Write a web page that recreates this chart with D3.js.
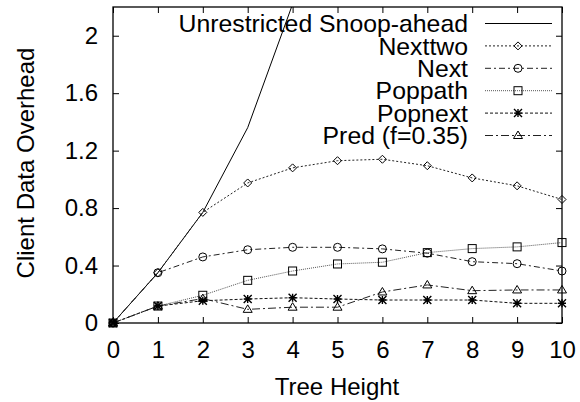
<!DOCTYPE html>
<html><head><meta charset="utf-8">
<script src="https://cdn.jsdelivr.net/npm/d3@7"></script>
<style>body{margin:0;background:#fff}text{font-family:"Liberation Sans",Arial,Helvetica,sans-serif;fill:#000}</style>
</head><body>
<svg id="c" width="580" height="402"></svg>
<script>
const heights = [0,1,2,3,4,5,6,7,8,9,10];
const xTicks = [0,1,2,3,4,5,6,7,8,9,10];
const yTicks = [0,0.4,0.8,1.2,1.6,2];
const yTickLabels = ["0","0.4","0.8","1.2","1.6","2"];
const unrestricted = [0,0.35,0.77,1.36,2.22];
const nexttwo = [0,0.35,0.77,0.975,1.08,1.13,1.14,1.095,1.01,0.955,0.86];
const next = [0,0.35,0.46,0.51,0.527,0.527,0.516,0.486,0.427,0.413,0.362];
const poppath = [0,0.118,0.193,0.297,0.362,0.411,0.423,0.49,0.518,0.53,0.56];
const popnext = [0,0.118,0.155,0.167,0.176,0.167,0.16,0.16,0.16,0.137,0.137];
const pred = [0,0.118,0.17,0.095,0.11,0.11,0.216,0.265,0.225,0.23,0.23];
const seriesNames = ["Unrestricted Snoop-ahead","Nexttwo","Next","Poppath","Popnext","Pred (f=0.35)"];

const series = [
  {name:seriesNames[0], values:unrestricted, dash:null, marker:null, stroke:"#000"},
  {name:seriesNames[1], values:nexttwo, dash:"2,2", marker:"diamond", stroke:"#222"},
  {name:seriesNames[2], values:next, dash:"6,3,2,3", marker:"circle", stroke:"#222"},
  {name:seriesNames[3], values:poppath, dash:"1,1", marker:"square", stroke:"#555"},
  {name:seriesNames[4], values:popnext, dash:"3,2", marker:"star", stroke:"#111"},
  {name:seriesNames[5], values:pred, dash:"8,3,2,3", marker:"triangle", stroke:"#222"}
];

const L=113,R=562,T=7,B=323;
const FS=24, LFS=24.8;
const svg=d3.select("#c");
const x=d3.scaleLinear().domain([0,10]).range([L,R]);
const y=d3.scaleLinear().domain([0,2.2]).range([B,T]);

svg.append("defs").append("clipPath").attr("id","clip").append("rect")
  .attr("x",L).attr("y",T).attr("width",R-L).attr("height",B-T);

const tl=6;
const ax=svg.append("g");
ax.append("g").attr("transform",`translate(0,${B})`)
  .call(d3.axisBottom(x).tickValues(xTicks).tickSize(-tl).tickPadding(18).tickFormat(d3.format("d")))
  .call(g=>{g.select(".domain").remove();g.selectAll("text").attr("font-size",FS).attr("dy","0.71em");});
ax.append("g").attr("transform",`translate(0,${T})`)
  .call(d3.axisTop(x).tickValues(xTicks).tickSize(-tl).tickFormat(""))
  .call(g=>g.select(".domain").remove());
ax.append("g").attr("transform",`translate(${L},0)`)
  .call(d3.axisLeft(y).tickValues(yTicks).tickSize(-tl).tickPadding(15).tickFormat((d,i)=>yTickLabels[i]))
  .call(g=>{g.select(".domain").remove();g.selectAll("text").attr("font-size",FS);});
ax.append("g").attr("transform",`translate(${R},0)`)
  .call(d3.axisRight(y).tickValues(yTicks).tickSize(-tl).tickFormat(""))
  .call(g=>g.select(".domain").remove());
ax.selectAll(".tick line").attr("stroke","#000");

svg.append("rect").attr("x",L).attr("y",T).attr("width",R-L).attr("height",B-T)
  .attr("fill","none").attr("stroke","#000").attr("stroke-width",1.3);

svg.append("text").attr("x",337).attr("y",395).attr("text-anchor","middle").attr("font-size",FS).text("Tree Height");
svg.append("text").attr("transform","translate(34,163) rotate(-90)").attr("text-anchor","middle").attr("font-size",FS).text("Client Data Overhead");

function drawMarker(g,type,cx,cy){
  const s=4;
  if(type==="diamond") g.append("path").attr("d",`M${cx},${cy-s}L${cx+s},${cy}L${cx},${cy+s}L${cx-s},${cy}Z`);
  else if(type==="circle") g.append("circle").attr("cx",cx).attr("cy",cy).attr("r",s);
  else if(type==="square") g.append("rect").attr("x",cx-s).attr("y",cy-s).attr("width",2*s).attr("height",2*s);
  else if(type==="triangle") g.append("path").attr("d",`M${cx},${cy-s-0.5}L${cx+s+0.5},${cy+s-1}L${cx-s-0.5},${cy+s-1}Z`);
  else if(type==="star") g.append("path").attr("d",`M${cx-s},${cy}L${cx+s},${cy}M${cx},${cy-s}L${cx},${cy+s}M${cx-s},${cy-s}L${cx+s},${cy+s}M${cx-s},${cy+s}L${cx+s},${cy-s}`).attr("stroke-width",1.4);
}

const plot=svg.append("g").attr("clip-path","url(#clip)");
const line=d3.line().x((d,i)=>x(heights[i])).y(d=>y(d));
series.forEach(s=>{
  plot.append("path").datum(s.values).attr("d",line).attr("fill","none")
    .attr("stroke",s.stroke).attr("stroke-width",1).attr("stroke-dasharray",s.dash);
});
const mg=svg.append("g").attr("fill","none").attr("stroke","#000").attr("stroke-width",1);
series.forEach(s=>{
  if(!s.marker) return;
  s.values.forEach((v,i)=>drawMarker(mg,s.marker,x(heights[i]),y(v)));
});

const lg=svg.append("g");
series.forEach((s,i)=>{
  const yy=23.5+i*22.4;
  lg.append("text").attr("x",468).attr("y",yy).attr("dy","0.35em").attr("text-anchor","end").attr("font-size",LFS).text(s.name);
  lg.append("line").attr("x1",485).attr("x2",552).attr("y1",yy).attr("y2",yy)
    .attr("stroke",s.stroke).attr("stroke-width",1).attr("stroke-dasharray",s.dash);
  if(s.marker){const g=lg.append("g").attr("fill","none").attr("stroke","#000");drawMarker(g,s.marker,518,yy);}
});
</script>
</body></html>
